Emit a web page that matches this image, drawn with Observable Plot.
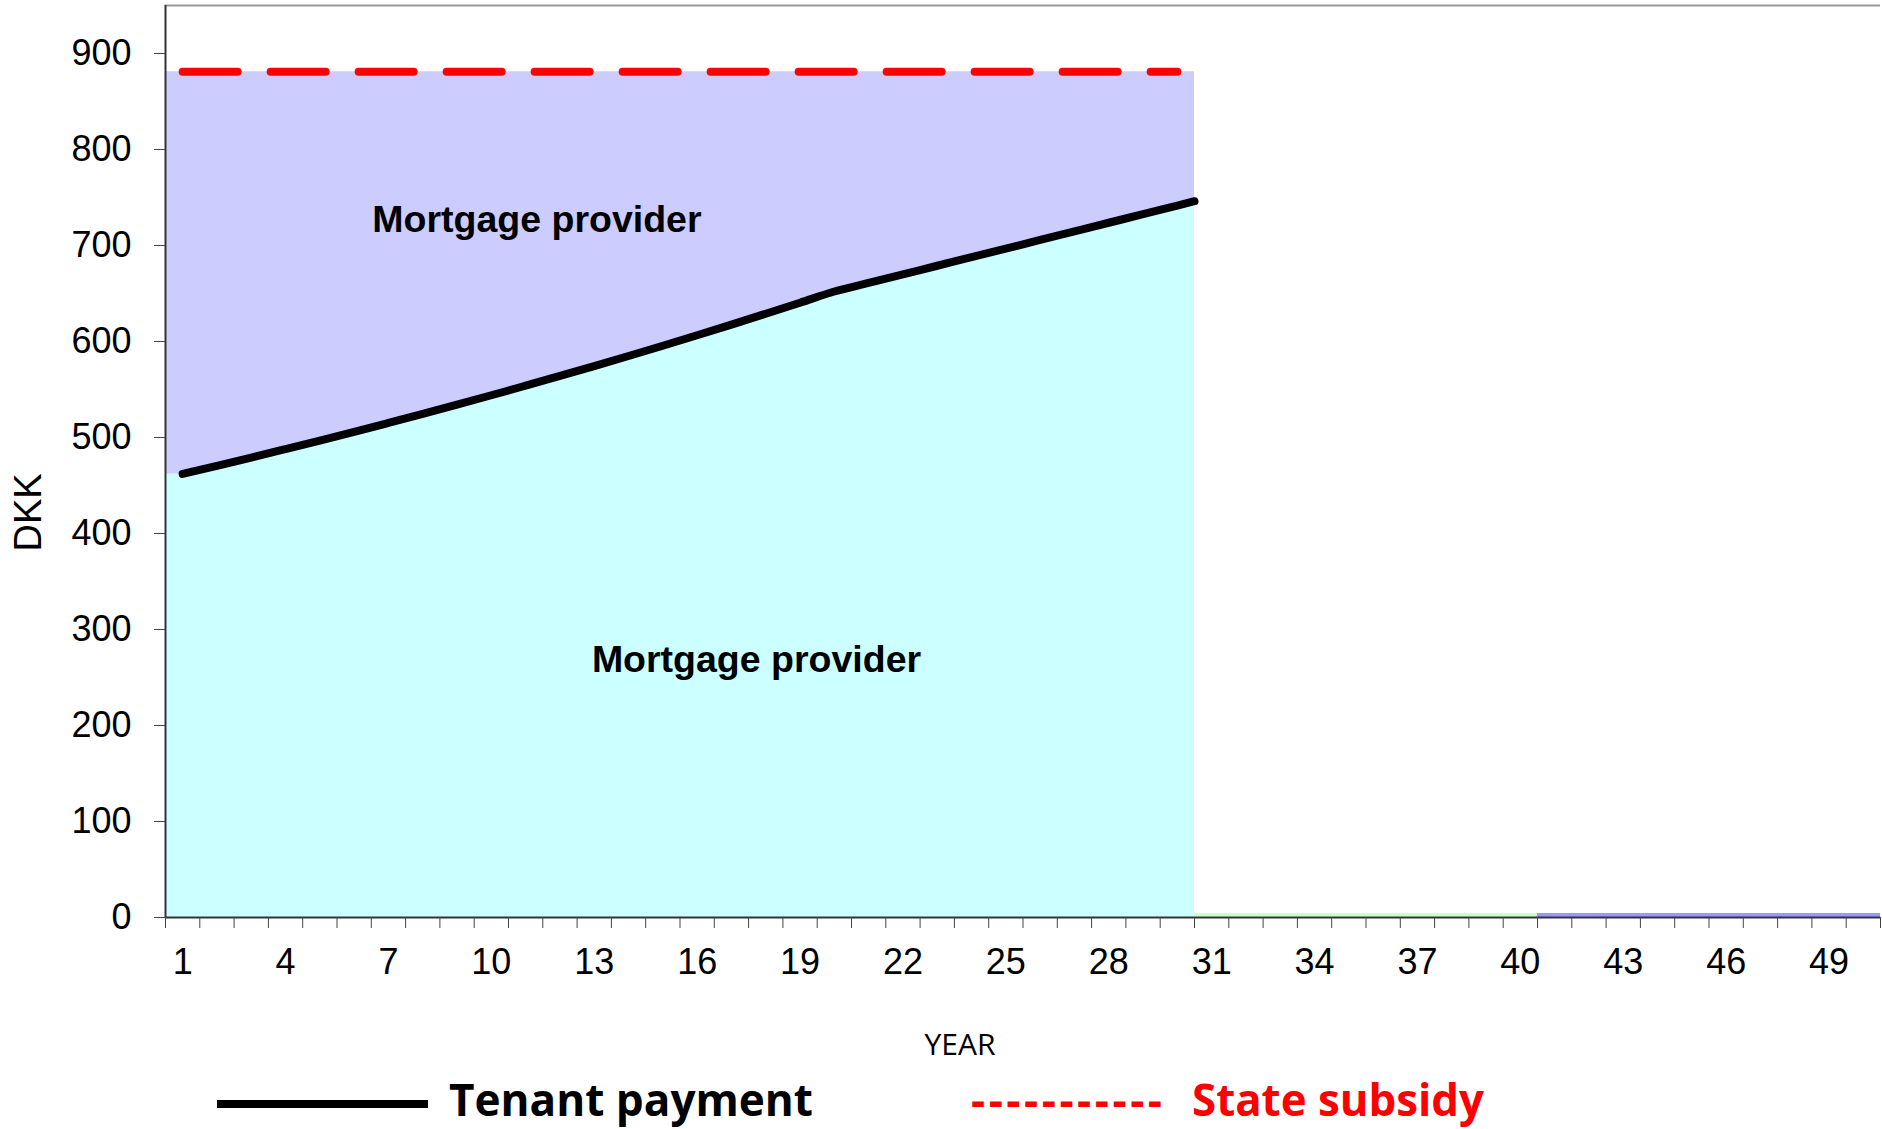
<!DOCTYPE html>
<html>
<head>
<meta charset="utf-8">
<script src="https://cdn.jsdelivr.net/npm/d3@7"></script>
<script src="https://cdn.jsdelivr.net/npm/@observablehq/plot@0.6"></script>
<style>
  html, body { margin: 0; padding: 0; background: #fff; }
  #chart svg { display: block; }
</style>
</head>
<body>
<div id="chart"></div>
<script>
// ---- data ----
const years = [1,2,3,4,5,6,7,8,9,10,11,12,13,14,15,16,17,18,19,20,21,22,23,24,25,26,27,28,29,30];
const tenantPayment = [462.0,470.5,479.1,487.9,496.8,505.9,515.2,524.6,534.2,544.0,554.0,564.1,574.4,584.9,595.6,606.5,617.6,628.9,640.4,652.1,661.0,670.0,678.9,687.9,696.8,705.8,714.7,723.7,732.6,741.6];
const stateSubsidyTotal = [881,881,881,881,881,881,881,881,881,881,881,881,881,881,881,881,881,881,881,881,881,881,881,881,881,881,881,881,881,881];
const tailYearsA = [31,32,33,34,35,36,37,38,39,40];
const tailValuesA = [4,4,4,4,4,4,4,4,4,4];
const tailYearsB = [41,42,43,44,45,46,47,48,49,50];
const tailValuesB = [4,4,4,4,4,4,4,4,4,4];
const xTickLabels = [1,4,7,10,13,16,19,22,25,28,31,34,37,40,43,46,49];
const yTicks = [0,100,200,300,400,500,600,700,800,900];
const areaLabels = ["Mortgage provider", "Mortgage provider"];
const areaLabelYear = [11.33, 17.73];
const areaLabelValue = [727, 268];
const yMax = 950;
const lastYear = 50;

// ---- derived tables ----
const rows = years.map((y, i) => ({x: y, tenant: tenantPayment[i], total: stateSubsidyTotal[i]}));
const n = rows.length;
const endRow = {
  x: years[n - 1] + 0.5,
  tenant: tenantPayment[n - 1] + (tenantPayment[n - 1] - tenantPayment[n - 2]) / 2,
  total: stateSubsidyTotal[n - 1]
};
const startRow = {x: years[0] - 0.5, tenant: tenantPayment[0], total: stateSubsidyTotal[0]};
const areaRows = [startRow, ...rows, endRow];
const lineRows = [...rows, endRow];
const tailA = tailYearsA.map((y, i) => ({year: y, v: tailValuesA[i]}));
const tailB = tailYearsB.map((y, i) => ({year: y, v: tailValuesB[i]}));
const bandEdges = d3.range(0, lastYear + 1).map(i => i + 0.5);
const labelRows = areaLabels.map((t, i) => ({t, x: areaLabelYear[i], y: areaLabelValue[i]}));

const chart = Plot.plot({
  width: 1882,
  height: 1070,
  marginLeft: 165,
  marginRight: 2,
  marginTop: 5,
  marginBottom: 153,
  x: {domain: [0.5, lastYear + 0.5]},
  y: {domain: [0, yMax]},
  style: {fontFamily: "'Liberation Sans', Arial, sans-serif", fontSize: "36px", color: "#000", background: "#fff", overflow: "visible"},
  marks: [
    Plot.areaY(areaRows, {x: "x", y: "tenant", fill: "#ccffff", curve: "monotone-x"}),
    Plot.areaY(areaRows, {x: "x", y1: "tenant", y2: "total", fill: "#ccccff", curve: "monotone-x"}),
    Plot.rectY(tailA, {x1: d => d.year - 0.5, x2: d => d.year + 0.5, y: "v", fill: "#ccffcc", shapeRendering: "crispEdges"}),
    Plot.rectY(tailB, {x1: d => d.year - 0.5, x2: d => d.year + 0.5, y: "v", fill: "#9999ff", shapeRendering: "crispEdges"}),
    Plot.ruleY([yMax], {stroke: "#999", strokeWidth: 2}),
    Plot.ruleX([0.5], {stroke: "#333", strokeWidth: 2}),
    Plot.ruleY([0], {stroke: "#333", strokeWidth: 2}),
    Plot.line(rows, {x: "x", y: "total", stroke: "#ff0000", strokeWidth: 8, strokeDasharray: "55,33", strokeLinecap: "round"}),
    Plot.line(lineRows, {x: "x", y: "tenant", stroke: "#000", strokeWidth: 8, strokeLinecap: "round", strokeLinejoin: "round", curve: "monotone-x"}),
    Plot.text(labelRows, {x: "x", y: "y", text: "t", fontWeight: "bold", fontSize: 37.5, fill: "#000"}),
    Plot.axisY(yTicks, {tickSize: 11, tickPadding: 23, label: null, stroke: "#444"}),
    Plot.axisX(bandEdges, {tickSize: 11, tickFormat: () => "", label: null, stroke: "#444"}),
    Plot.axisX(xTickLabels, {tickSize: 0, tickPadding: 31, label: null}),
    Plot.text(["DKK"], {x: [0.5], y: [422], dx: -137, rotate: -90, fontSize: 38, fill: "#000"}),
    Plot.text(["YEAR"], {frameAnchor: "bottom", dx: -63, dy: 137, fontSize: 30, fontFamily: "'Open Sans', sans-serif", fill: "#000"})
  ]
});
document.getElementById("chart").appendChild(chart);

// ---- legend below the plot ----
const legend = d3.select("#chart").append("svg")
  .attr("width", 1882).attr("height", 59)
  .style("display", "block")
  .style("font-family", "'Open Sans', sans-serif")
  .style("font-weight", "700");
legend.append("line")
  .attr("x1", 217).attr("x2", 428).attr("y1", 34).attr("y2", 34)
  .attr("stroke", "#000").attr("stroke-width", 8);
legend.append("text")
  .attr("x", 449).attr("y", 46).attr("font-size", 44)
  .attr("textLength", 364).attr("lengthAdjust", "spacingAndGlyphs")
  .attr("fill", "#000").text("Tenant payment");
legend.append("text")
  .attr("x", 971).attr("y", 46).attr("font-size", 44)
  .attr("textLength", 191).attr("lengthAdjust", "spacing")
  .attr("fill", "#ff0000").text("-----------");
legend.append("text")
  .attr("x", 1192).attr("y", 46).attr("font-size", 44)
  .attr("textLength", 292).attr("lengthAdjust", "spacingAndGlyphs")
  .attr("fill", "#ff0000").text("State subsidy");
</script>
</body>
</html>
